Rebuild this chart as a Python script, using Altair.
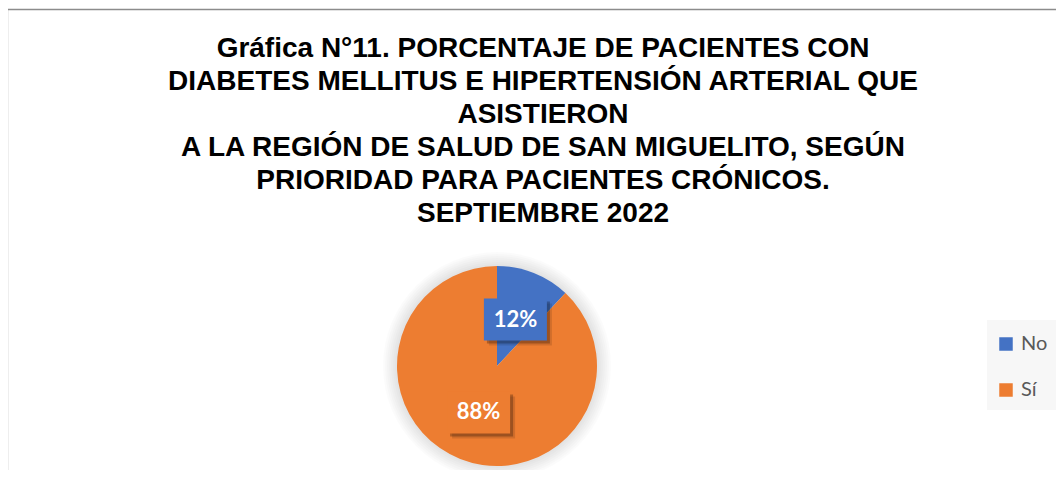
import altair as alt
import pandas as pd

categories = ["No", "Sí"]
values = [12, 88]
labels = ["12%", "88%"]
colors = ["#4472C4", "#ED7D31"]
title_lines = [
    "Gráfica N°11. PORCENTAJE DE PACIENTES CON",
    "DIABETES MELLITUS E HIPERTENSIÓN ARTERIAL QUE",
    "ASISTIERON",
    "A LA REGIÓN DE SALUD DE SAN MIGUELITO, SEGÚN",
    "PRIORIDAD PARA PACIENTES CRÓNICOS.",
    "SEPTIEMBRE 2022",
]

df = pd.DataFrame({"cat": categories, "value": values, "label": labels,
                   "idx": list(range(len(categories)))})
one = pd.DataFrame({"k": [0]})

CX, CY, R, LR = 487, 356, 100, 50
BW, BH = 63, 42

color_scale = alt.Scale(domain=categories, range=colors)

base = alt.Chart(df)

pie = base.mark_arc(outerRadius=R).encode(
    theta=alt.Theta("value:Q", stack=True),
    order=alt.Order("idx:Q"),
    color=alt.Color(
        "cat:N", scale=color_scale,
        legend=alt.Legend(
            title=None, orient="none", legendX=986, legendY=324,
            symbolType="square", symbolSize=182, symbolStrokeWidth=0,
            labelFont="Lato", labelFontSize=20, labelColor="#595959",
            labelOffset=5, rowPadding=26, padding=0,
        ),
    ),
    x=alt.value(CX), y=alt.value(CY),
)

lab = (
    base.transform_joinaggregate(total="sum(value)")
    .transform_window(cum="sum(value)", sort=[alt.SortField("idx")], frame=[None, 0])
    .transform_calculate(mid="(datum.cum - datum.value/2)/datum.total*2*PI")
    .transform_calculate(lx=f"{CX} + {LR}*sin(datum.mid)")
    .transform_calculate(ly=f"{CY} - {LR}*cos(datum.mid)")
    .transform_calculate(x0=f"datum.lx - {BW/2}", x1=f"datum.lx + {BW/2}",
                         y0=f"datum.ly - {BH/2}", y1=f"datum.ly + {BH/2}")
)

shadow1 = lab.mark_rect(color="black", opacity=0.12).encode(
    x=alt.X("x0:Q", scale=None), x2="x1:Q",
    y=alt.Y("y0:Q", scale=None), y2="y1:Q",
).transform_calculate(x0="datum.x0 + 5", x1="datum.x1 + 5", y0="datum.y0 + 5", y1="datum.y1 + 5")

shadow2 = lab.mark_rect(color="black", opacity=0.25).encode(
    x=alt.X("x0:Q", scale=None), x2="x1:Q",
    y=alt.Y("y0:Q", scale=None), y2="y1:Q",
).transform_calculate(x0="datum.x0 + 3", x1="datum.x1 + 3", y0="datum.y0 + 3", y1="datum.y1 + 3")

boxes = lab.mark_rect().encode(
    x=alt.X("x0:Q", scale=None), x2="x1:Q",
    y=alt.Y("y0:Q", scale=None), y2="y1:Q",
    color=alt.Color("cat:N", scale=color_scale, legend=None),
)

texts = lab.mark_text(font="Lato", fontSize=22, fontWeight="bold", color="white",
                      align="center", baseline="middle").encode(
    x=alt.X("lx:Q", scale=None), y=alt.Y("ly:Q", scale=None), text="label:N",
)

glow = [
    alt.Chart(one).mark_arc(theta=0, theta2=6.2832, outerRadius=R + d,
                            color="black", opacity=0.014).encode(
        x=alt.value(CX), y=alt.value(CY))
    for d in (2, 4, 6, 8, 10, 12, 14)
]

title = alt.Chart(one).mark_text(
    text=title_lines, font="Liberation Sans", fontSize=28, fontWeight="bold",
    lineHeight=33, baseline="alphabetic", align="center", color="black",
).encode(x=alt.value(533), y=alt.value(47))

border_left = alt.Chart(one).mark_rule(color="#8c8c8c", strokeWidth=1.3).encode(
    x=alt.value(-2.5), y=alt.value(-0.5), y2=alt.value(480))
border_top = alt.Chart(one).mark_rule(color="#8c8c8c", strokeWidth=1.3).encode(
    x=alt.value(-2.5), x2=alt.value(1100), y=alt.value(-0.5))

legend_bg = alt.Chart(one).mark_rect(color="#f7f7f7").encode(
    x=alt.value(977), x2=alt.value(1046), y=alt.value(310), y2=alt.value(400))

chart = alt.layer(
    border_left, border_top, legend_bg, title, *glow, pie,
    shadow1, shadow2, boxes, texts,
).properties(
    width=1046, height=460,
    padding={"left": 2, "top": 2, "right": 0, "bottom": 0},
    autosize="none",
).configure_view(strokeWidth=0)

chart.save("out.html", embed_options={"renderer": "svg", "actions": False})
